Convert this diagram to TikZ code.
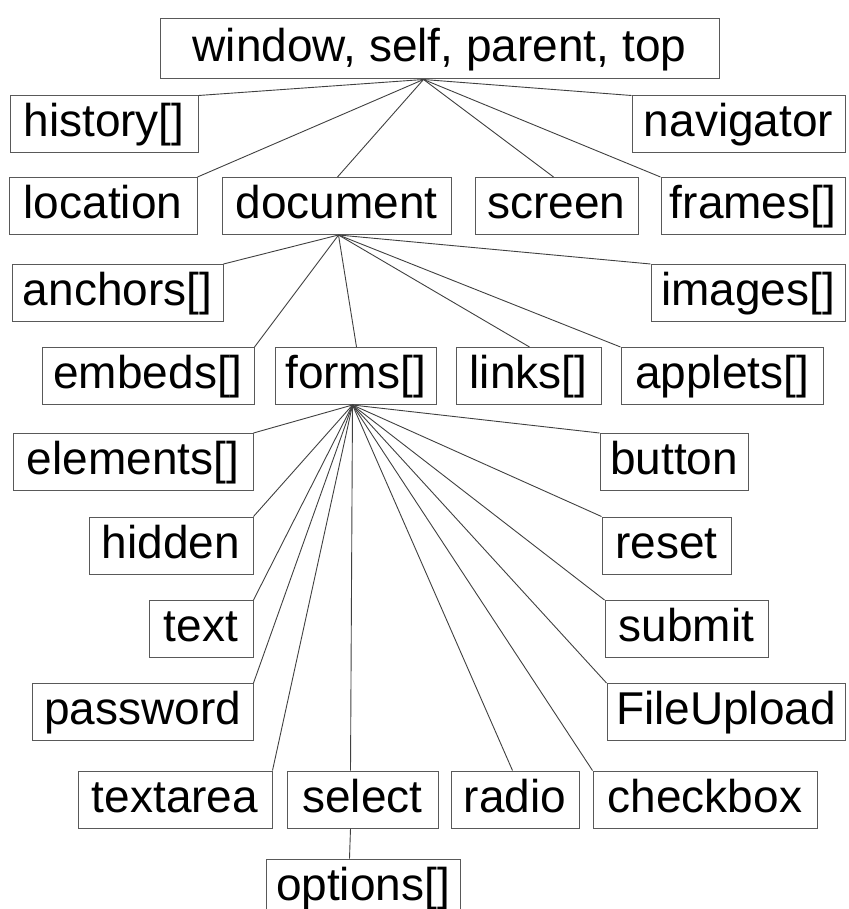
\documentclass[tikz,border=0pt]{standalone}
\usepackage{fontspec}
\setmainfont{Liberation Sans}
\begin{document}
\begin{tikzpicture}[x=1pt,y=-1pt,
  box/.style={draw=black!65, line width=1pt, inner xsep=0pt, inner ysep=0pt,
    text height=41pt, text depth=16pt, font=\fontsize{46}{52}\selectfont},
  link/.style={draw=black!75, line width=0.9pt}]
\useasboundingbox (0,0) rectangle (848,909);
% level 0
\node[box, minimum width=559pt, text height=43pt, text depth=17pt] (win) at (439.5,49) {window, self, parent, top\hspace{17pt}};
% level 1
\node[box, minimum width=188pt] (hist) at (104,124.5) {history[]};
\node[box, minimum width=213pt] (nav) at (738.5,124.5) {navigator};
\node[box, minimum width=188pt] (loc) at (103,206) {location};
\node[box, minimum width=229pt] (doc) at (336.5,206) {document};
\node[box, minimum width=163pt] (scr) at (556.5,206) {screen};
\node[box, minimum width=184pt] (frm) at (753,206) {frames[]};
% level 2
\node[box, minimum width=211pt] (anc) at (117.5,293) {anchors[]};
\node[box, minimum width=194pt] (img) at (748,293) {images[]};
\node[box, minimum width=212pt] (emb) at (148,376) {embeds[]};
\node[box, minimum width=161pt] (forms) at (355.5,376) {forms[]};
\node[box, minimum width=145pt] (lnk) at (528.5,376) {links[]};
\node[box, minimum width=202pt] (app) at (722,376) {applets[]};
% level 3
\node[box, minimum width=240pt] (ele) at (133,462) {elements[]};
\node[box, minimum width=148pt] (btn) at (674,462) {button};
\node[box, minimum width=164pt] (hid) at (171,545.5) {hidden};
\node[box, minimum width=129pt] (rst) at (666.5,545.5) {reset};
\node[box, minimum width=104pt] (txt) at (201,629) {text};
\node[box, minimum width=163pt] (sub) at (686.5,629) {submit};
\node[box, minimum width=221pt] (pwd) at (142.5,712) {password};
\node[box, minimum width=238pt] (fup) at (726,712) {FileUpload};
\node[box, minimum width=194pt] (tar) at (175,799.5) {textarea};
\node[box, minimum width=151pt] (sel) at (362.5,799.5) {select};
\node[box, minimum width=128pt] (rad) at (515,799.5) {radio};
\node[box, minimum width=224pt] (chk) at (705,799.5) {checkbox};
\node[box, minimum width=194pt] (opt) at (363,887.5) {options[]};
% hub points
\coordinate (wa) at ([xshift=264pt]win.south west);
\coordinate (da) at ([xshift=117pt]doc.south west);
\coordinate (fa) at ([xshift=78pt]forms.south west);
% connectors from window
\draw[link] (wa) -- (hist.north east);
\draw[link] (wa) -- (nav.north west);
\draw[link] (wa) -- (loc.north east);
\draw[link] (wa) -- ([xshift=116pt]doc.north west);
\draw[link] (wa) -- ([xshift=79pt]scr.north west);
\draw[link] (wa) -- (frm.north west);
% connectors from document
\draw[link] (da) -- (anc.north east);
\draw[link] (da) -- (img.north west);
\draw[link] (da) -- (emb.north east);
\draw[link] (da) -- ([xshift=82pt]forms.north west);
\draw[link] (da) -- ([xshift=74pt]lnk.north west);
\draw[link] (da) -- (app.north west);
% connectors from forms
\draw[link] (fa) -- (ele.north east);
\draw[link] (fa) -- (btn.north west);
\draw[link] (fa) -- (hid.north east);
\draw[link] (fa) -- (rst.north west);
\draw[link] (fa) -- (txt.north east);
\draw[link] (fa) -- (sub.north west);
\draw[link] (fa) -- (pwd.north east);
\draw[link] (fa) -- (fup.north west);
\draw[link] (fa) -- (tar.north east);
\draw[link] (fa) -- ([xshift=64pt]sel.north west);
\draw[link] (fa) -- ([xshift=62pt]rad.north west);
\draw[link] (fa) -- (chk.north west);
% select to options
\draw[link] ([xshift=64pt]sel.south west) -- ([xshift=84pt]opt.north west);
\end{tikzpicture}
\end{document}
